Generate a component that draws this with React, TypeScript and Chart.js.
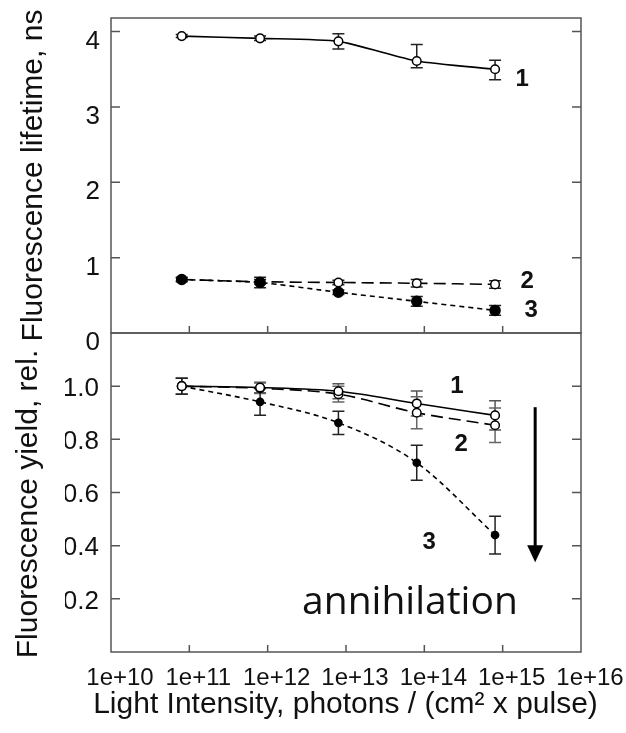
import React, { useEffect, useRef } from "react";
import { Chart, registerables } from "chart.js";

Chart.register(...registerables);

// ---------- data ----------
const INTENSITY = [8e10, 8e11, 8e12, 8e13, 8e14];

const X_TICKS = [1e10, 1e11, 1e12, 1e13, 1e14, 1e15, 1e16];
const X_TICK_LABELS = ["1e+10", "1e+11", "1e+12", "1e+13", "1e+14", "1e+15", "1e+16"];

const LIFETIME_TICKS = [0, 1, 2, 3, 4];
const LIFETIME_TICK_LABELS = ["0", "1", "2", "3", "4"];
const YIELD_TICKS = [0.2, 0.4, 0.6, 0.8, 1.0];
const YIELD_TICK_LABELS = ["0.2", "0.4", "0.6", "0.8", "1.0"];

// Fluorescence lifetime, ns
const LIFETIME_1 = [3.94, 3.91, 3.87, 3.61, 3.5];
const LIFETIME_1_ERR_UP = [0.02, 0.03, 0.1, 0.22, 0.12];
const LIFETIME_1_ERR_DOWN = [0.02, 0.03, 0.1, 0.09, 0.14];
const LIFETIME_2 = [0.71, 0.68, 0.67, 0.66, 0.645];
const LIFETIME_2_ERR = [0.02, 0.03, 0.03, 0.05, 0.05];
const LIFETIME_3 = [0.71, 0.67, 0.54, 0.42, 0.3];
const LIFETIME_3_ERR = [0.03, 0.07, 0.03, 0.065, 0.065];

// Fluorescence yield, rel.
const YIELD_1 = [1.0, 0.995, 0.981, 0.935, 0.89];
const YIELD_1_ERR = [0.03, 0.02, 0.028, 0.047, 0.055];
const YIELD_2 = [1.0, 0.992, 0.97, 0.9, 0.853];
const YIELD_2_ERR = [0.03, 0.02, 0.03, 0.06, 0.065];
const YIELD_3 = [1.0, 0.941, 0.862, 0.712, 0.44];
const YIELD_3_ERR = [0.03, 0.05, 0.044, 0.066, 0.071];

// annotation positions (data units)
const TOP_LABELS = ["1", "2", "3"];
const TOP_LABEL_X = [1.77e15, 2.06e15, 2.31e15];
const TOP_LABEL_Y = [3.36, 0.69, 0.305];
const BOTTOM_LABELS = ["1", "2", "3"];
const BOTTOM_LABEL_X = [2.6e14, 2.95e14, 1.15e14];
const BOTTOM_LABEL_Y = [1.0, 0.782, 0.414];
const ANNIHILATION_TEXT = "annihilation";
const ANNIHILATION_X = 2.75e12;
const ANNIHILATION_Y = 0.143;
const ARROW_X = 2.6e15;
const ARROW_Y_FROM = 0.921;
const ARROW_Y_TO = 0.338;

const TITLE_TOP = "Fluorescence lifetime, ns";
const TITLE_BOTTOM = "Fluorescence yield, rel.";
const TITLE_X = "Light Intensity, photons / (cm\u00B2 x pulse)";

// ---------- styling ----------
const SANS = "'Liberation Sans', Arial, Helvetica, sans-serif";
const INK = "#111";
const FRAME = "#555";

const pts = (ys: number[]) => INTENSITY.map((x, i) => ({ x, y: ys[i] }));

function framePlugin(xTicks: number[], yTicks: number[]) {
  return {
    id: "frame",
    beforeDatasetsDraw(chart: any) {
      const { ctx, chartArea: a, scales } = chart;
      const xs = scales.x;
      const ys = scales.y;
      ctx.save();
      ctx.strokeStyle = FRAME;
      ctx.lineWidth = 1.5;
      ctx.strokeRect(a.left, a.top, a.right - a.left, a.bottom - a.top);
      ctx.beginPath();
      for (const v of yTicks) {
        const py = ys.getPixelForValue(v);
        if (py <= a.top + 1 || py >= a.bottom - 1) continue;
        ctx.moveTo(a.left, py);
        ctx.lineTo(a.left + 9, py);
        ctx.moveTo(a.right, py);
        ctx.lineTo(a.right - 9, py);
      }
      for (const v of xTicks) {
        const px = xs.getPixelForValue(v);
        if (px <= a.left + 1 || px >= a.right - 1) continue;
        ctx.moveTo(px, a.bottom);
        ctx.lineTo(px, a.bottom - 7);
      }
      ctx.stroke();
      ctx.restore();
    },
  };
}

type ErrSpec = { ds: number; up: number[]; down: number[]; color: string };

function errorBarPlugin(specs: ErrSpec[]) {
  return {
    id: "errorBars",
    beforeDatasetsDraw(chart: any) {
      const { ctx, scales } = chart;
      const xs = scales.x;
      const ys = scales.y;
      ctx.save();
      ctx.lineWidth = 1.5;
      for (const s of specs) {
        const data = chart.data.datasets[s.ds].data as { x: number; y: number }[];
        ctx.strokeStyle = s.color;
        ctx.beginPath();
        data.forEach((p, i) => {
          const px = xs.getPixelForValue(p.x);
          const t = ys.getPixelForValue(p.y + s.up[i]);
          const b = ys.getPixelForValue(p.y - s.down[i]);
          ctx.moveTo(px, t);
          ctx.lineTo(px, b);
          ctx.moveTo(px - 6, t);
          ctx.lineTo(px + 6, t);
          ctx.moveTo(px - 6, b);
          ctx.lineTo(px + 6, b);
        });
        ctx.stroke();
      }
      ctx.restore();
    },
  };
}

type TextItem = { text: string; x: number; y: number; font: string; align: CanvasTextAlign; baseline: CanvasTextBaseline };

function annotationPlugin(items: TextItem[], arrow?: { x: number; y1: number; y2: number }) {
  return {
    id: "annotations",
    afterDraw(chart: any) {
      const { ctx, scales } = chart;
      const xs = scales.x;
      const ys = scales.y;
      ctx.save();
      ctx.fillStyle = INK;
      for (const it of items) {
        ctx.font = it.font;
        ctx.textAlign = it.align;
        ctx.textBaseline = it.baseline;
        ctx.fillText(it.text, xs.getPixelForValue(it.x), ys.getPixelForValue(it.y));
      }
      if (arrow) {
        const px = xs.getPixelForValue(arrow.x);
        const p1 = ys.getPixelForValue(arrow.y1);
        const p2 = ys.getPixelForValue(arrow.y2);
        const head = 17;
        ctx.strokeStyle = "#000";
        ctx.fillStyle = "#000";
        ctx.lineWidth = 3;
        ctx.beginPath();
        ctx.moveTo(px, p1);
        ctx.lineTo(px, p2 - head + 2);
        ctx.stroke();
        ctx.beginPath();
        ctx.moveTo(px - 8, p2 - head);
        ctx.lineTo(px + 8, p2 - head);
        ctx.lineTo(px, p2);
        ctx.closePath();
        ctx.fill();
      }
      ctx.restore();
    },
  };
}

function yTitlePlugin(text: string, baselineX: number, dy: number) {
  return {
    id: "yTitle",
    afterDraw(chart: any) {
      const { ctx, chartArea: a } = chart;
      ctx.save();
      ctx.translate(baselineX, (a.top + a.bottom) / 2 + dy);
      ctx.rotate(-Math.PI / 2);
      ctx.font = `30px ${SANS}`;
      ctx.fillStyle = INK;
      ctx.textAlign = "center";
      ctx.textBaseline = "alphabetic";
      ctx.fillText(text, 0, 0);
      ctx.restore();
    },
  };
}

function lineDs(data: number[], filled: boolean, dash: number[], order: number, radius: number, monotone: boolean) {
  return {
    data: pts(data),
    borderColor: "#000",
    borderWidth: 1.6,
    borderDash: dash,
    pointRadius: radius,
    pointBorderWidth: 1.5,
    pointBorderColor: "#000",
    pointBackgroundColor: filled ? "#000" : "#fff",
    cubicInterpolationMode: monotone ? "monotone" : "default",
    tension: monotone ? 0 : 0.2,
    fill: false,
    order,
  };
}

function topConfig(): any {
  return {
    type: "line",
    data: {
      datasets: [
        lineDs(LIFETIME_1, false, [], 2, 4.3, false),
        lineDs(LIFETIME_2, false, [12, 6], 1, 4.3, false),
        lineDs(LIFETIME_3, true, [5, 4], 0, 5, false),
      ],
    },
    options: {
      animation: false,
      responsive: false,
      events: [],
      layout: { padding: { left: 0, top: 18, right: 45, bottom: 400 } },
      plugins: { legend: { display: false }, tooltip: { enabled: false }, title: { display: false } },
      scales: {
        x: { type: "logarithmic", min: 1e10, max: 1e16, display: false },
        y: {
          type: "linear",
          position: "left",
          min: 0,
          max: 4.18,
          grid: { display: false, drawTicks: false },
          border: { display: false },
          ticks: {
            font: { family: SANS, size: 26 },
            color: INK,
            padding: 11,
            labelOffset: 10,
            autoSkip: false,
            callback: (_v: any, i: number) => LIFETIME_TICK_LABELS[i],
          },
          afterBuildTicks: (s: any) => {
            s.ticks = LIFETIME_TICKS.map((v) => ({ value: v }));
          },
          afterFit: (s: any) => {
            s.width = 111;
            s.paddingTop = 0;
            s.paddingBottom = 0;
          },
        },
      },
    },
    plugins: [
      framePlugin(X_TICKS, LIFETIME_TICKS),
      errorBarPlugin([
        { ds: 0, up: LIFETIME_1_ERR_UP, down: LIFETIME_1_ERR_DOWN, color: "#222" },
        { ds: 1, up: LIFETIME_2_ERR, down: LIFETIME_2_ERR, color: "#222" },
        { ds: 2, up: LIFETIME_3_ERR, down: LIFETIME_3_ERR, color: "#222" },
      ]),
      annotationPlugin(
        TOP_LABELS.map((t, i) => ({
          text: t,
          x: TOP_LABEL_X[i],
          y: TOP_LABEL_Y[i],
          font: `bold 24px ${SANS}`,
          align: "center" as CanvasTextAlign,
          baseline: "middle" as CanvasTextBaseline,
        }))
      ),
      yTitlePlugin(TITLE_TOP, 42, 0),
    ],
  };
}

function bottomConfig(): any {
  return {
    type: "line",
    data: {
      datasets: [
        lineDs(YIELD_1, false, [], 0, 4.3, true),
        lineDs(YIELD_2, false, [12, 6], 1, 4.3, true),
        lineDs(YIELD_3, true, [5, 4], 2, 3.6, true),
      ],
    },
    options: {
      animation: false,
      responsive: false,
      events: [],
      layout: { padding: { left: 65, top: 333, right: 0, bottom: 0 } },
      plugins: {
        legend: { display: false },
        tooltip: { enabled: false },
        title: {
          display: true,
          position: "bottom",
          text: TITLE_X,
          color: INK,
          font: { family: SANS, size: 30, weight: "normal", lineHeight: 1.2 },
          padding: { top: 0, bottom: 10 },
        },
      },
      scales: {
        x: {
          type: "logarithmic",
          min: 1e10,
          max: 1e16,
          position: "bottom",
          grid: { display: false, drawTicks: false },
          border: { display: false },
          ticks: {
            font: { family: SANS, size: 24 },
            color: INK,
            padding: 12,
            labelOffset: 9,
            autoSkip: false,
            maxRotation: 0,
            minRotation: 0,
            callback: (_v: any, i: number) => X_TICK_LABELS[i],
          },
          afterBuildTicks: (s: any) => {
            s.ticks = X_TICKS.map((v) => ({ value: v }));
          },
          afterFit: (s: any) => {
            s.height = 35;
            s.paddingLeft = 0;
            s.paddingRight = 0;
          },
        },
        y: {
          type: "linear",
          position: "left",
          min: 0,
          max: 1.2,
          grid: { display: false, drawTicks: false },
          border: { display: false },
          ticks: {
            font: { family: SANS, size: 26 },
            color: INK,
            padding: 12,
            labelOffset: 2.5,
            autoSkip: false,
            callback: (_v: any, i: number) => YIELD_TICK_LABELS[i],
          },
          afterBuildTicks: (s: any) => {
            s.ticks = YIELD_TICKS.map((v) => ({ value: v }));
          },
          afterFit: (s: any) => {
            s.width = 46;
            s.paddingTop = 0;
            s.paddingBottom = 0;
          },
        },
        yRight: {
          type: "linear",
          position: "right",
          min: 0,
          max: 1,
          grid: { display: false, drawTicks: false },
          border: { display: false },
          ticks: { display: false },
          afterFit: (s: any) => {
            s.width = 45;
            s.paddingTop = 0;
            s.paddingBottom = 0;
          },
        },
      },
    },
    plugins: [
      framePlugin(X_TICKS, YIELD_TICKS),
      errorBarPlugin([
        { ds: 0, up: YIELD_1_ERR, down: YIELD_1_ERR, color: "#555" },
        { ds: 1, up: YIELD_2_ERR, down: YIELD_2_ERR, color: "#666" },
        { ds: 2, up: YIELD_3_ERR, down: YIELD_3_ERR, color: "#222" },
      ]),
      annotationPlugin(
        [
          ...BOTTOM_LABELS.map((t, i) => ({
            text: t,
            x: BOTTOM_LABEL_X[i],
            y: BOTTOM_LABEL_Y[i],
            font: `bold 24px ${SANS}`,
            align: "center" as CanvasTextAlign,
            baseline: "middle" as CanvasTextBaseline,
          })),
          {
            text: ANNIHILATION_TEXT,
            x: ANNIHILATION_X,
            y: ANNIHILATION_Y,
            font: `39px 'Open Sans', 'DejaVu Sans', sans-serif`,
            align: "left" as CanvasTextAlign,
            baseline: "alphabetic" as CanvasTextBaseline,
          },
        ],
        { x: ARROW_X, y1: ARROW_Y_FROM, y2: ARROW_Y_TO }
      ),
      yTitlePlugin(TITLE_BOTTOM, 37, 11.5),
    ],
  };
}

export default function App() {
  const topRef = useRef<HTMLCanvasElement>(null);
  const botRef = useRef<HTMLCanvasElement>(null);

  useEffect(() => {
    const c1 = new Chart(topRef.current as HTMLCanvasElement, topConfig());
    const c2 = new Chart(botRef.current as HTMLCanvasElement, bottomConfig());
    return () => {
      c1.destroy();
      c2.destroy();
    };
  }, []);

  return (
    <div style={{ position: "absolute", left: 0, top: 0, width: 626, height: 733, background: "#fff" }}>
      <canvas ref={topRef} width={626} height={733} style={{ position: "absolute", left: 0, top: 0 }} />
      <canvas ref={botRef} width={626} height={733} style={{ position: "absolute", left: 0, top: 0 }} />
    </div>
  );
}
